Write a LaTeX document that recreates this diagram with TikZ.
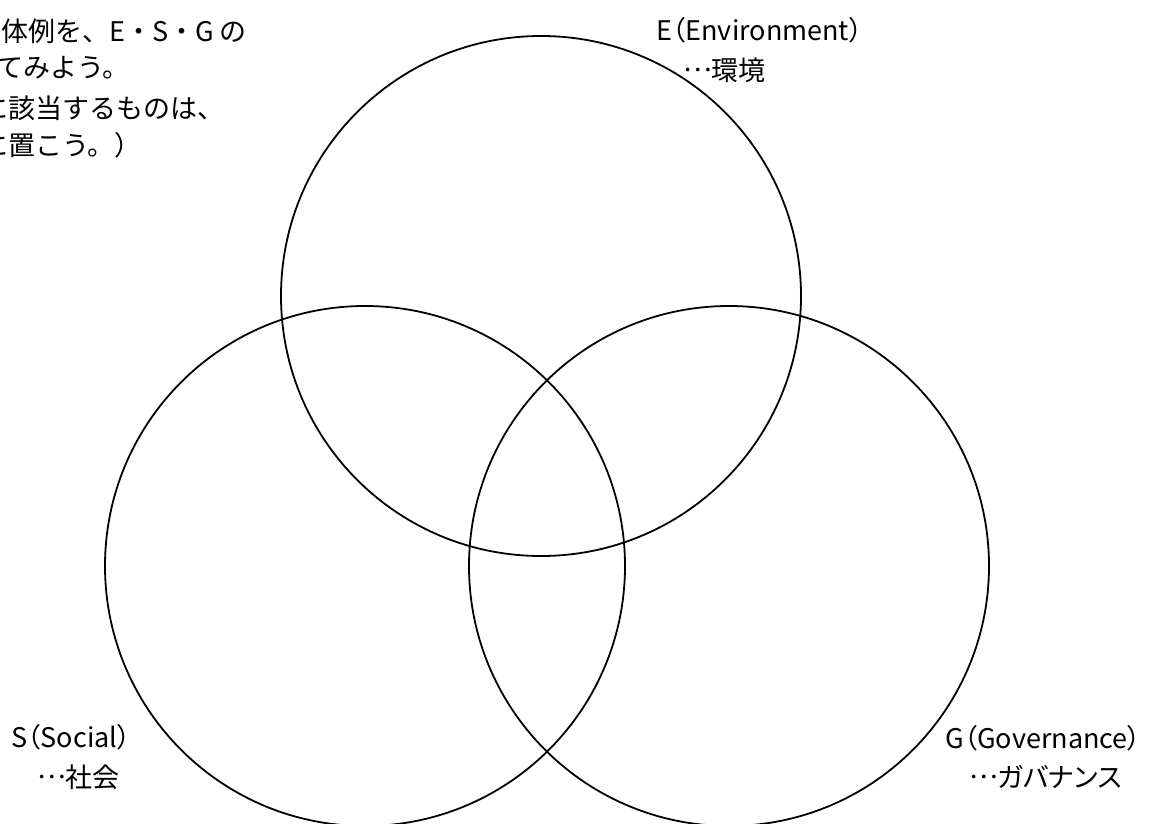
\documentclass[tikz,border=0pt]{standalone}
\usepackage{fontspec}
\setmainfont{Noto Sans CJK JP}
\newfontfamily\labfont[RawFeature={+palt}]{Noto Sans CJK JP}
\newcommand{\myell}{\raisebox{0.32em}{\hbox to 1em{\hss …\hss}}}
\tikzset{
  ring/.style={draw=black, line width=1.8pt},
  txt/.style={inner sep=0pt, anchor=west, font=\fontsize{27}{30}\selectfont},
  lab/.style={inner sep=0pt, anchor=west, font=\labfont\fontsize{27}{30}\selectfont}
}
\begin{document}
\begin{tikzpicture}[x=1pt, y=-1pt]
\useasboundingbox (0,0) rectangle (1157,824);
\clip (0,0) rectangle (1157,824);
\fill[white] (0,0) rectangle (1157,824);
% circles
\draw[ring] (541,296) circle[radius=260];
\draw[ring] (365,566) circle[radius=260];
\draw[ring] (729,566) circle[radius=260];
% top-left instruction text (clipped at left edge)
\node[txt] (t1) at (1,31) {体例を、E・S・G の};
\node[txt] (t2) at (-4,68) {てみよう。};
\node[txt] (t3) at (-19,108) {に該当するものは、};
\node[txt] (t4) at (-19,145) {に置こう。）};
% labels
\node[lab] (e1) at (656,30) {E（Environment）};
\node[lab] (e2) at (684,70) {\myell 環境};
\node[lab] (s1) at (11,737) {S（Social）};
\node[lab] (s2) at (38,777) {\myell 社会};
\node[lab] (g1) at (945,738) {G（Governance）};
\node[lab] (g2) at (970,777) {\myell ガバナンス};
\end{tikzpicture}
\end{document}
